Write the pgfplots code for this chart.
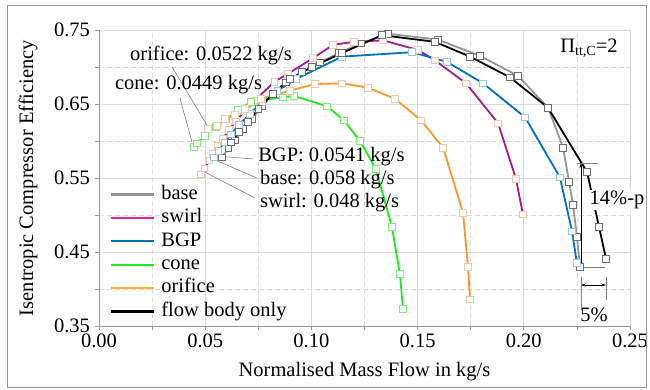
\documentclass[border=0pt]{standalone}
\usepackage{fontspec}
\setmainfont{Liberation Serif}
\usepackage{pgfplots}
\pgfplotsset{compat=1.18}
\usetikzlibrary{arrows.meta}
\definecolor{cbase}{RGB}{150,150,150}
\definecolor{cswirl}{RGB}{165,25,150}
\definecolor{legpink}{RGB}{225,40,140}
\definecolor{cbgp}{RGB}{0,114,189}
\definecolor{ccone}{RGB}{30,235,30}
\definecolor{corifice}{RGB}{255,150,40}
\definecolor{legorange}{RGB}{255,180,40}
\definecolor{mbeige}{RGB}{245,200,165}
\definecolor{mblue}{RGB}{150,200,235}
\definecolor{mgreen}{RGB}{120,240,120}
\definecolor{mgray}{RGB}{110,110,110}
\definecolor{gridc}{RGB}{220,220,220}
\begin{document}
\begin{tikzpicture}[font=\fontsize{20.5bp}{24bp}\selectfont]
\useasboundingbox (-99bp,-64bp) rectangle (551bp,326bp);
\begin{axis}[
  scale only axis, width=531bp, height=296bp,
  xmin=0, xmax=0.25, ymin=0.35, ymax=0.75,
  clip=false,
  axis x line*=bottom, axis y line*=left,
  axis line style={draw=gray!80, line width=0.8bp, -},
  xtick={0,0.05,0.10,0.15,0.20,0.25},
  minor xtick={0.025,0.075,0.125,0.175,0.225},
  ytick={0.35,0.45,0.55,0.65,0.75},
  minor ytick={0.40,0.50,0.60,0.70},
  tick align=outside, major tick length=4bp, minor tick length=4bp,
  tick style={gray!80, line width=0.8bp},
  grid=both,
  major grid style={gridc, line width=0.8bp},
  minor grid style={gridc, line width=0.8bp, dash pattern=on 5bp off 3bp},
  /pgf/number format/assume math mode=true,
  xticklabel style={/pgf/number format/fixed, /pgf/number format/fixed zerofill, /pgf/number format/precision=2},
  yticklabel style={/pgf/number format/fixed, /pgf/number format/fixed zerofill, /pgf/number format/precision=2, xshift=-1.5bp},
  xlabel={Normalised Mass Flow in kg/s},
  ylabel={Isentropic Compressor Efficiency},
  xlabel style={at={([yshift=-46bp]axis description cs:0.5,0)}, anchor=center},
  ylabel style={at={([xshift=-71bp]axis description cs:0,0.5)}, anchor=center},
  legend style={draw=none, fill=none, at={([xshift=8bp,yshift=3bp]axis description cs:0,0)}, anchor=south west,
    row sep=4.9bp, column sep=6bp,
    nodes={inner sep=0pt, text height=14bp, text depth=4.5bp}},
  legend cell align=left,
  legend image code/.code={\draw[line width=2.2bp, #1, mark=none] (0bp,0bp) -- (43bp,0bp);},
  every axis plot/.append style={line width=1.8bp, mark=square*, mark size=3.3bp},
]
% base
\addplot[cbase, mark options={fill=white, solid, line width=0.8bp, draw=mgray}, forget plot] coordinates {
(0.058,0.578) (0.061,0.590) (0.064,0.601) (0.068,0.616) (0.072,0.630) (0.077,0.647)
(0.0819,0.664) (0.088,0.679) (0.0955,0.693) (0.104,0.706) (0.113,0.719) (0.1235,0.732)
(0.136,0.745) (0.1595,0.737) (0.1794,0.715) (0.1973,0.688) (0.2114,0.645)
(0.2185,0.591) (0.2213,0.545) (0.2232,0.514) (0.2250,0.470) (0.2265,0.430)};
% swirl
\addplot[cswirl, mark options={fill=white, solid, line width=0.8bp, draw=mbeige}, forget plot] coordinates {
(0.048,0.555) (0.0497,0.563) (0.0520,0.574) (0.0537,0.583) (0.0557,0.593) (0.0582,0.603)
(0.0612,0.615) (0.0645,0.627) (0.0685,0.640) (0.0735,0.655) (0.0825,0.680) (0.0890,0.691)
(0.1008,0.712) (0.1102,0.730) (0.1201,0.734) (0.1337,0.736) (0.1502,0.723) (0.1582,0.709)
(0.1728,0.678) (0.1879,0.624) (0.1963,0.549) (0.1996,0.501)};
% BGP
\addplot[cbgp, mark options={fill=white, solid, line width=0.8bp, draw=mblue}, forget plot] coordinates {
(0.0541,0.578) (0.0562,0.587) (0.0590,0.598) (0.0620,0.609) (0.0660,0.622) (0.0710,0.637)
(0.0770,0.653) (0.0840,0.668) (0.0930,0.684) (0.1144,0.714) (0.1474,0.720) (0.1638,0.707)
(0.1808,0.678) (0.2006,0.632) (0.2170,0.551) (0.2227,0.478) (0.2250,0.435)};
% cone
\addplot[ccone, mark options={fill=white, solid, line width=0.8bp, draw=mgreen}, forget plot] coordinates {
(0.0447,0.592) (0.0461,0.597) (0.0500,0.607) (0.0550,0.619) (0.0600,0.630) (0.0655,0.642)
(0.0716,0.653) (0.0866,0.659) (0.0918,0.661) (0.1073,0.647) (0.1153,0.628) (0.1229,0.600)
(0.1304,0.562) (0.1379,0.484) (0.1417,0.420) (0.1431,0.373)};
% orifice
\addplot[corifice, mark options={fill=white, solid, line width=0.8bp, draw=mbeige}, forget plot] coordinates {
(0.0513,0.616) (0.0556,0.620) (0.0593,0.630) (0.0640,0.635) (0.0687,0.643) (0.0763,0.657)
(0.0899,0.668) (0.1017,0.677) (0.1144,0.678) (0.1266,0.672) (0.1394,0.657) (0.1516,0.628)
(0.1620,0.591) (0.1714,0.503) (0.1737,0.430) (0.1747,0.386)};
% flow body only
\addplot[black, mark options={fill=white, solid, line width=0.8bp, draw=mgray}, forget plot] coordinates {
(0.0620,0.598) (0.0660,0.612) (0.0700,0.626) (0.0750,0.643) (0.0819,0.664) (0.0900,0.684)
(0.1003,0.700) (0.1145,0.719) (0.1332,0.743) (0.1582,0.734) (0.1747,0.714) (0.1935,0.686)
(0.2114,0.645) (0.2298,0.558) (0.2354,0.484) (0.2387,0.441)};

\addlegendimage{draw=cbase}\addlegendentry{base}
\addlegendimage{draw=legpink}\addlegendentry{swirl}
\addlegendimage{draw=cbgp}\addlegendentry{BGP}
\addlegendimage{draw=ccone}\addlegendentry{cone}
\addlegendimage{draw=legorange}\addlegendentry{orifice}
\addlegendimage{draw=black}\addlegendentry{flow body only}

% leader lines and labels
\draw[gray, line width=0.6bp] (axis cs:0.0344,0.700) -- (axis cs:0.0508,0.6216);
\draw[gray, line width=0.6bp] (axis cs:0.0381,0.658) -- (axis cs:0.0438,0.5986);
\draw[gray, line width=0.6bp] (axis cs:0.0556,0.5797) -- (axis cs:0.0725,0.5757);
\draw[gray, line width=0.6bp] (axis cs:0.0556,0.573) -- (axis cs:0.0744,0.550);
\draw[gray, line width=0.6bp] (axis cs:0.0499,0.558) -- (axis cs:0.0734,0.523);
\node[anchor=west, inner sep=0pt] at (axis cs:0.0146,0.716) {orifice: 0.0522 kg/s};
\node[anchor=west, inner sep=0pt] at (axis cs:0.0075,0.6757) {cone: 0.0449 kg/s};
\node[anchor=west, inner sep=0pt] at (axis cs:0.0749,0.5784) {BGP: 0.0541 kg/s};
\node[anchor=west, inner sep=0pt] at (axis cs:0.0758,0.5473) {base: 0.058 kg/s};
\node[anchor=west, inner sep=0pt] at (axis cs:0.0758,0.5162) {swirl: 0.048 kg/s};
\node at (axis cs:0.2307,0.7257) {Π\raisebox{-0.35ex}{\fontsize{14bp}{14bp}\selectfont tt,C}=2};
% 14%-p annotation
\draw[gray, line width=0.6bp] (axis cs:0.2250,0.570) -- (axis cs:0.2349,0.570);
\draw[gray, line width=0.6bp] (axis cs:0.2265,0.4297) -- (axis cs:0.2382,0.4297);
\draw[black, line width=0.6bp, {Stealth[length=5bp,width=3bp]}-{Stealth[length=5bp,width=3bp]}] (axis cs:0.2269,0.570) -- (axis cs:0.2269,0.4297);
\node[fill=white, inner sep=1bp] at (axis cs:0.2439,0.5203) {14\%-p};
% 5% annotation
\draw[gray, line width=0.6bp] (axis cs:0.2269,0.4162) -- (axis cs:0.2269,0.3716);
\draw[gray, line width=0.6bp] (axis cs:0.2387,0.4162) -- (axis cs:0.2387,0.3851);
\draw[black, line width=0.6bp, {Stealth[length=5bp,width=3bp]}-{Stealth[length=5bp,width=3bp]}] (axis cs:0.2269,0.4054) -- (axis cs:0.2387,0.4054);
\node at (axis cs:0.2331,0.3649) {5\%};
\end{axis}
\draw[gray!80, line width=1bp] (-91bp,-61bp) rectangle (547bp,320bp);
\end{tikzpicture}
\end{document}
